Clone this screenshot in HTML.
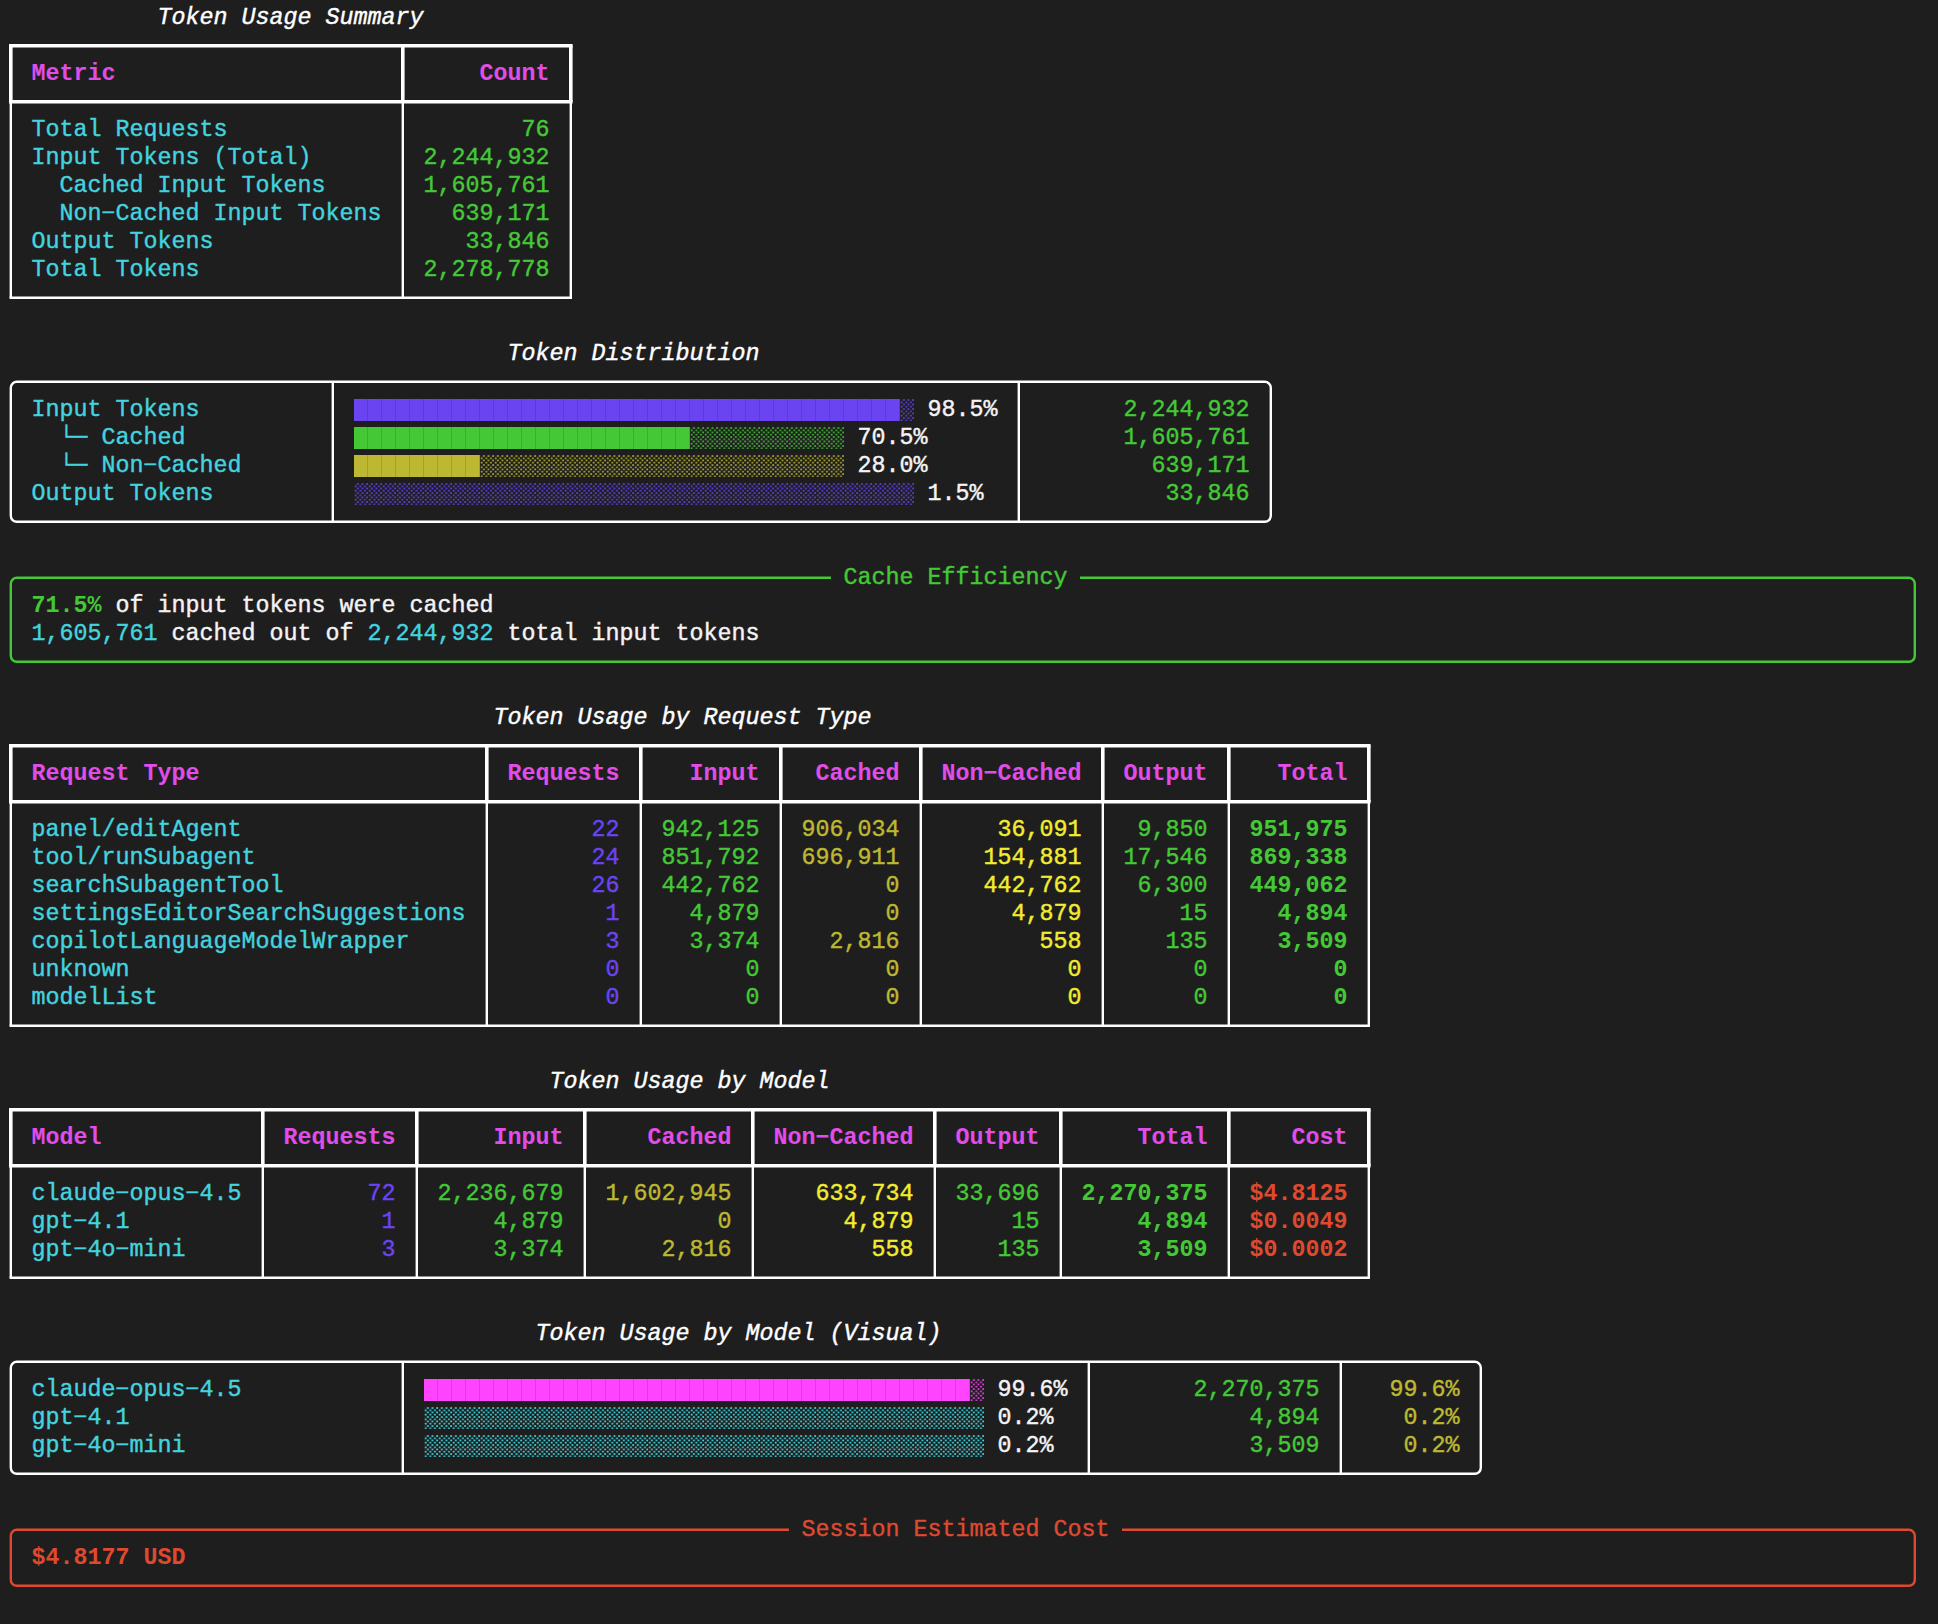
<!DOCTYPE html>
<html><head><meta charset="utf-8"><style>
html,body{margin:0;padding:0;background:#1e1e1e;}
body{width:1938px;height:1624px;overflow:hidden;position:relative;}
.t{position:absolute;white-space:pre;font-family:"Liberation Mono",monospace;font-size:23.33px;line-height:28px;-webkit-text-stroke:0.4px currentColor;}
.b{font-weight:bold;-webkit-text-stroke:0.05px currentColor;}
.i{font-style:italic;}
.bar{position:absolute;}
.r{position:absolute;}
.sh{position:absolute;}
svg.lines{position:absolute;left:0;top:0;}
</style></head><body>
<svg class="lines" width="1938" height="1624"><line x1="10.80" y1="45.80" x2="10.80" y2="101.80" stroke="#ffffff" stroke-width="3.6" stroke-linecap="butt"/><line x1="10.80" y1="101.80" x2="10.80" y2="297.80" stroke="#ffffff" stroke-width="2.4" stroke-linecap="butt"/><line x1="402.80" y1="45.80" x2="402.80" y2="101.80" stroke="#ffffff" stroke-width="3.6" stroke-linecap="butt"/><line x1="402.80" y1="101.80" x2="402.80" y2="297.80" stroke="#ffffff" stroke-width="2.4" stroke-linecap="butt"/><line x1="570.80" y1="45.80" x2="570.80" y2="101.80" stroke="#ffffff" stroke-width="3.6" stroke-linecap="butt"/><line x1="570.80" y1="101.80" x2="570.80" y2="297.80" stroke="#ffffff" stroke-width="2.4" stroke-linecap="butt"/><line x1="10.80" y1="45.80" x2="570.80" y2="45.80" stroke="#ffffff" stroke-width="3.6" stroke-linecap="square"/><line x1="10.80" y1="101.80" x2="570.80" y2="101.80" stroke="#ffffff" stroke-width="3.6" stroke-linecap="square"/><line x1="10.80" y1="297.80" x2="570.80" y2="297.80" stroke="#ffffff" stroke-width="2.4" stroke-linecap="square"/><line x1="332.80" y1="381.80" x2="332.80" y2="521.80" stroke="#ffffff" stroke-width="2.4" stroke-linecap="butt"/><line x1="1018.80" y1="381.80" x2="1018.80" y2="521.80" stroke="#ffffff" stroke-width="2.4" stroke-linecap="butt"/><rect x="10.80" y="381.80" width="1260.00" height="140.00" rx="6" ry="6" fill="none" stroke="#ffffff" stroke-width="2.4"/><rect x="10.80" y="577.80" width="1904.00" height="84.00" rx="6" ry="6" fill="none" stroke="#44c836" stroke-width="2.4"/><rect x="831" y="572" width="249" height="12" fill="#1e1e1e"/><line x1="10.80" y1="745.80" x2="10.80" y2="801.80" stroke="#ffffff" stroke-width="3.6" stroke-linecap="butt"/><line x1="10.80" y1="801.80" x2="10.80" y2="1025.80" stroke="#ffffff" stroke-width="2.4" stroke-linecap="butt"/><line x1="486.80" y1="745.80" x2="486.80" y2="801.80" stroke="#ffffff" stroke-width="3.6" stroke-linecap="butt"/><line x1="486.80" y1="801.80" x2="486.80" y2="1025.80" stroke="#ffffff" stroke-width="2.4" stroke-linecap="butt"/><line x1="640.80" y1="745.80" x2="640.80" y2="801.80" stroke="#ffffff" stroke-width="3.6" stroke-linecap="butt"/><line x1="640.80" y1="801.80" x2="640.80" y2="1025.80" stroke="#ffffff" stroke-width="2.4" stroke-linecap="butt"/><line x1="780.80" y1="745.80" x2="780.80" y2="801.80" stroke="#ffffff" stroke-width="3.6" stroke-linecap="butt"/><line x1="780.80" y1="801.80" x2="780.80" y2="1025.80" stroke="#ffffff" stroke-width="2.4" stroke-linecap="butt"/><line x1="920.80" y1="745.80" x2="920.80" y2="801.80" stroke="#ffffff" stroke-width="3.6" stroke-linecap="butt"/><line x1="920.80" y1="801.80" x2="920.80" y2="1025.80" stroke="#ffffff" stroke-width="2.4" stroke-linecap="butt"/><line x1="1102.80" y1="745.80" x2="1102.80" y2="801.80" stroke="#ffffff" stroke-width="3.6" stroke-linecap="butt"/><line x1="1102.80" y1="801.80" x2="1102.80" y2="1025.80" stroke="#ffffff" stroke-width="2.4" stroke-linecap="butt"/><line x1="1228.80" y1="745.80" x2="1228.80" y2="801.80" stroke="#ffffff" stroke-width="3.6" stroke-linecap="butt"/><line x1="1228.80" y1="801.80" x2="1228.80" y2="1025.80" stroke="#ffffff" stroke-width="2.4" stroke-linecap="butt"/><line x1="1368.80" y1="745.80" x2="1368.80" y2="801.80" stroke="#ffffff" stroke-width="3.6" stroke-linecap="butt"/><line x1="1368.80" y1="801.80" x2="1368.80" y2="1025.80" stroke="#ffffff" stroke-width="2.4" stroke-linecap="butt"/><line x1="10.80" y1="745.80" x2="1368.80" y2="745.80" stroke="#ffffff" stroke-width="3.6" stroke-linecap="square"/><line x1="10.80" y1="801.80" x2="1368.80" y2="801.80" stroke="#ffffff" stroke-width="3.6" stroke-linecap="square"/><line x1="10.80" y1="1025.80" x2="1368.80" y2="1025.80" stroke="#ffffff" stroke-width="2.4" stroke-linecap="square"/><line x1="10.80" y1="1109.80" x2="10.80" y2="1165.80" stroke="#ffffff" stroke-width="3.6" stroke-linecap="butt"/><line x1="10.80" y1="1165.80" x2="10.80" y2="1277.80" stroke="#ffffff" stroke-width="2.4" stroke-linecap="butt"/><line x1="262.80" y1="1109.80" x2="262.80" y2="1165.80" stroke="#ffffff" stroke-width="3.6" stroke-linecap="butt"/><line x1="262.80" y1="1165.80" x2="262.80" y2="1277.80" stroke="#ffffff" stroke-width="2.4" stroke-linecap="butt"/><line x1="416.80" y1="1109.80" x2="416.80" y2="1165.80" stroke="#ffffff" stroke-width="3.6" stroke-linecap="butt"/><line x1="416.80" y1="1165.80" x2="416.80" y2="1277.80" stroke="#ffffff" stroke-width="2.4" stroke-linecap="butt"/><line x1="584.80" y1="1109.80" x2="584.80" y2="1165.80" stroke="#ffffff" stroke-width="3.6" stroke-linecap="butt"/><line x1="584.80" y1="1165.80" x2="584.80" y2="1277.80" stroke="#ffffff" stroke-width="2.4" stroke-linecap="butt"/><line x1="752.80" y1="1109.80" x2="752.80" y2="1165.80" stroke="#ffffff" stroke-width="3.6" stroke-linecap="butt"/><line x1="752.80" y1="1165.80" x2="752.80" y2="1277.80" stroke="#ffffff" stroke-width="2.4" stroke-linecap="butt"/><line x1="934.80" y1="1109.80" x2="934.80" y2="1165.80" stroke="#ffffff" stroke-width="3.6" stroke-linecap="butt"/><line x1="934.80" y1="1165.80" x2="934.80" y2="1277.80" stroke="#ffffff" stroke-width="2.4" stroke-linecap="butt"/><line x1="1060.80" y1="1109.80" x2="1060.80" y2="1165.80" stroke="#ffffff" stroke-width="3.6" stroke-linecap="butt"/><line x1="1060.80" y1="1165.80" x2="1060.80" y2="1277.80" stroke="#ffffff" stroke-width="2.4" stroke-linecap="butt"/><line x1="1228.80" y1="1109.80" x2="1228.80" y2="1165.80" stroke="#ffffff" stroke-width="3.6" stroke-linecap="butt"/><line x1="1228.80" y1="1165.80" x2="1228.80" y2="1277.80" stroke="#ffffff" stroke-width="2.4" stroke-linecap="butt"/><line x1="1368.80" y1="1109.80" x2="1368.80" y2="1165.80" stroke="#ffffff" stroke-width="3.6" stroke-linecap="butt"/><line x1="1368.80" y1="1165.80" x2="1368.80" y2="1277.80" stroke="#ffffff" stroke-width="2.4" stroke-linecap="butt"/><line x1="10.80" y1="1109.80" x2="1368.80" y2="1109.80" stroke="#ffffff" stroke-width="3.6" stroke-linecap="square"/><line x1="10.80" y1="1165.80" x2="1368.80" y2="1165.80" stroke="#ffffff" stroke-width="3.6" stroke-linecap="square"/><line x1="10.80" y1="1277.80" x2="1368.80" y2="1277.80" stroke="#ffffff" stroke-width="2.4" stroke-linecap="square"/><line x1="402.80" y1="1361.80" x2="402.80" y2="1473.80" stroke="#ffffff" stroke-width="2.4" stroke-linecap="butt"/><line x1="1088.80" y1="1361.80" x2="1088.80" y2="1473.80" stroke="#ffffff" stroke-width="2.4" stroke-linecap="butt"/><line x1="1340.80" y1="1361.80" x2="1340.80" y2="1473.80" stroke="#ffffff" stroke-width="2.4" stroke-linecap="butt"/><rect x="10.80" y="1361.80" width="1470.00" height="112.00" rx="6" ry="6" fill="none" stroke="#ffffff" stroke-width="2.4"/><rect x="10.80" y="1529.80" width="1904.00" height="56.00" rx="6" ry="6" fill="none" stroke="#dd4a2f" stroke-width="2.4"/><rect x="789" y="1524" width="333" height="12" fill="#1e1e1e"/></svg>
<div class="bar" style="left:354px;top:399px;width:546px;height:22px;background-color:#6b44f2;background-image:linear-gradient(to right,transparent 0 13px,rgba(0,0,0,0.13) 13px 14px);background-size:14px 100%"></div>
<svg class="sh" style="left:900px;top:399px" width="14" height="22"><defs><pattern id="p1" width="4.6667" height="4.5" patternUnits="userSpaceOnUse"><rect x="2.95" y="0.25" width="1.8" height="1.5" fill="#6b44f2"/><rect x="0.75" y="2.5" width="1.8" height="1.5" fill="#6b44f2"/><rect x="-1.717" y="0.25" width="1.8" height="1.5" fill="#6b44f2"/></pattern></defs><rect width="100%" height="100%" fill="url(#p1)"/></svg>
<div class="bar" style="left:354px;top:427px;width:336px;height:22px;background-color:#44c836;background-image:linear-gradient(to right,transparent 0 13px,rgba(0,0,0,0.13) 13px 14px);background-size:14px 100%"></div>
<svg class="sh" style="left:690px;top:427px" width="154" height="22"><defs><pattern id="p3" width="4.6667" height="4.5" patternUnits="userSpaceOnUse"><rect x="2.95" y="0.25" width="1.8" height="1.5" fill="#44c836"/><rect x="0.75" y="2.5" width="1.8" height="1.5" fill="#44c836"/><rect x="-1.717" y="0.25" width="1.8" height="1.5" fill="#44c836"/></pattern></defs><rect width="100%" height="100%" fill="url(#p3)"/></svg>
<div class="bar" style="left:354px;top:455px;width:126px;height:22px;background-color:#bdb832;background-image:linear-gradient(to right,transparent 0 13px,rgba(0,0,0,0.13) 13px 14px);background-size:14px 100%"></div>
<svg class="sh" style="left:480px;top:455px" width="364" height="22"><defs><pattern id="p5" width="4.6667" height="4.5" patternUnits="userSpaceOnUse"><rect x="2.95" y="0.25" width="1.8" height="1.5" fill="#bdb832"/><rect x="0.75" y="2.5" width="1.8" height="1.5" fill="#bdb832"/><rect x="-1.717" y="0.25" width="1.8" height="1.5" fill="#bdb832"/></pattern></defs><rect width="100%" height="100%" fill="url(#p5)"/></svg>
<svg class="sh" style="left:354px;top:483px" width="560" height="22"><defs><pattern id="p6" width="4.6667" height="4.5" patternUnits="userSpaceOnUse"><rect x="2.95" y="0.25" width="1.8" height="1.5" fill="#6b44f2"/><rect x="0.75" y="2.5" width="1.8" height="1.5" fill="#6b44f2"/><rect x="-1.717" y="0.25" width="1.8" height="1.5" fill="#6b44f2"/></pattern></defs><rect width="100%" height="100%" fill="url(#p6)"/></svg>
<div class="bar" style="left:424px;top:1379px;width:546px;height:22px;background-color:#ff44ff;background-image:linear-gradient(to right,transparent 0 13px,rgba(0,0,0,0.13) 13px 14px);background-size:14px 100%"></div>
<svg class="sh" style="left:970px;top:1379px" width="14" height="22"><defs><pattern id="p8" width="4.6667" height="4.5" patternUnits="userSpaceOnUse"><rect x="2.95" y="0.25" width="1.8" height="1.5" fill="#ff44ff"/><rect x="0.75" y="2.5" width="1.8" height="1.5" fill="#ff44ff"/><rect x="-1.717" y="0.25" width="1.8" height="1.5" fill="#ff44ff"/></pattern></defs><rect width="100%" height="100%" fill="url(#p8)"/></svg>
<svg class="sh" style="left:424px;top:1407px" width="560" height="22"><defs><pattern id="p9" width="4.6667" height="4.5" patternUnits="userSpaceOnUse"><rect x="2.95" y="0.25" width="1.8" height="1.5" fill="#44eef8"/><rect x="0.75" y="2.5" width="1.8" height="1.5" fill="#44eef8"/><rect x="-1.717" y="0.25" width="1.8" height="1.5" fill="#44eef8"/></pattern></defs><rect width="100%" height="100%" fill="url(#p9)"/></svg>
<svg class="sh" style="left:424px;top:1435px" width="560" height="22"><defs><pattern id="p10" width="4.6667" height="4.5" patternUnits="userSpaceOnUse"><rect x="2.95" y="0.25" width="1.8" height="1.5" fill="#44eef8"/><rect x="0.75" y="2.5" width="1.8" height="1.5" fill="#44eef8"/><rect x="-1.717" y="0.25" width="1.8" height="1.5" fill="#44eef8"/></pattern></defs><rect width="100%" height="100%" fill="url(#p10)"/></svg>
<div class="t i" style="left:157.50px;top:3.50px;color:#ffffff">Token Usage Summary</div>
<div class="t b" style="left:31.50px;top:59.50px;color:#e04de8">Metric</div>
<div class="t b" style="left:479.50px;top:59.50px;color:#e04de8">Count</div>
<div class="t" style="left:31.50px;top:115.50px;color:#43d3df">Total Requests</div>
<div class="t" style="left:521.50px;top:115.50px;color:#44c836">76</div>
<div class="t" style="left:31.50px;top:143.50px;color:#43d3df">Input Tokens (Total)</div>
<div class="t" style="left:423.50px;top:143.50px;color:#44c836">2,244,932</div>
<div class="t" style="left:59.50px;top:171.50px;color:#43d3df">Cached Input Tokens</div>
<div class="t" style="left:423.50px;top:171.50px;color:#44c836">1,605,761</div>
<div class="t" style="left:59.50px;top:199.50px;color:#43d3df">Non−Cached Input Tokens</div>
<div class="t" style="left:451.50px;top:199.50px;color:#44c836">639,171</div>
<div class="t" style="left:31.50px;top:227.50px;color:#43d3df">Output Tokens</div>
<div class="t" style="left:465.50px;top:227.50px;color:#44c836">33,846</div>
<div class="t" style="left:31.50px;top:255.50px;color:#43d3df">Total Tokens</div>
<div class="t" style="left:423.50px;top:255.50px;color:#44c836">2,278,778</div>
<div class="t i" style="left:507.50px;top:339.50px;color:#ffffff">Token Distribution</div>
<div class="t" style="left:31.50px;top:395.50px;color:#43d3df">Input Tokens</div>
<div class="t" style="left:59.50px;top:423.50px;color:#43d3df">└─ Cached</div>
<div class="t" style="left:59.50px;top:451.50px;color:#43d3df">└─ Non−Cached</div>
<div class="t" style="left:31.50px;top:479.50px;color:#43d3df">Output Tokens</div>
<div class="t" style="left:927.50px;top:395.50px;color:#f4f4f4">98.5%</div>
<div class="t" style="left:857.50px;top:423.50px;color:#f4f4f4">70.5%</div>
<div class="t" style="left:857.50px;top:451.50px;color:#f4f4f4">28.0%</div>
<div class="t" style="left:927.50px;top:479.50px;color:#f4f4f4">1.5%</div>
<div class="t" style="left:1123.50px;top:395.50px;color:#44c836">2,244,932</div>
<div class="t" style="left:1123.50px;top:423.50px;color:#44c836">1,605,761</div>
<div class="t" style="left:1151.50px;top:451.50px;color:#44c836">639,171</div>
<div class="t" style="left:1165.50px;top:479.50px;color:#44c836">33,846</div>
<div class="t" style="left:843.50px;top:563.50px;color:#44c836">Cache Efficiency</div>
<div class="t b" style="left:31.50px;top:591.50px;color:#44c836">71.5%</div>
<div class="t" style="left:101.50px;top:591.50px;color:#f4f4f4"> of input tokens were cached</div>
<div class="t" style="left:31.50px;top:619.50px;color:#43d3df">1,605,761</div>
<div class="t" style="left:157.50px;top:619.50px;color:#f4f4f4"> cached out of </div>
<div class="t" style="left:367.50px;top:619.50px;color:#43d3df">2,244,932</div>
<div class="t" style="left:493.50px;top:619.50px;color:#f4f4f4"> total input tokens</div>
<div class="t i" style="left:493.50px;top:703.50px;color:#ffffff">Token Usage by Request Type</div>
<div class="t b" style="left:31.50px;top:759.50px;color:#e04de8">Request Type</div>
<div class="t b" style="left:507.50px;top:759.50px;color:#e04de8">Requests</div>
<div class="t b" style="left:689.50px;top:759.50px;color:#e04de8">Input</div>
<div class="t b" style="left:815.50px;top:759.50px;color:#e04de8">Cached</div>
<div class="t b" style="left:941.50px;top:759.50px;color:#e04de8">Non−Cached</div>
<div class="t b" style="left:1123.50px;top:759.50px;color:#e04de8">Output</div>
<div class="t b" style="left:1277.50px;top:759.50px;color:#e04de8">Total</div>
<div class="t" style="left:31.50px;top:815.50px;color:#43d3df">panel/editAgent</div>
<div class="t" style="left:591.50px;top:815.50px;color:#6b44f2">22</div>
<div class="t" style="left:661.50px;top:815.50px;color:#44c836">942,125</div>
<div class="t" style="left:801.50px;top:815.50px;color:#bdb832">906,034</div>
<div class="t" style="left:997.50px;top:815.50px;color:#f2ec30">36,091</div>
<div class="t" style="left:1137.50px;top:815.50px;color:#44c836">9,850</div>
<div class="t b" style="left:1249.50px;top:815.50px;color:#44c836">951,975</div>
<div class="t" style="left:31.50px;top:843.50px;color:#43d3df">tool/runSubagent</div>
<div class="t" style="left:591.50px;top:843.50px;color:#6b44f2">24</div>
<div class="t" style="left:661.50px;top:843.50px;color:#44c836">851,792</div>
<div class="t" style="left:801.50px;top:843.50px;color:#bdb832">696,911</div>
<div class="t" style="left:983.50px;top:843.50px;color:#f2ec30">154,881</div>
<div class="t" style="left:1123.50px;top:843.50px;color:#44c836">17,546</div>
<div class="t b" style="left:1249.50px;top:843.50px;color:#44c836">869,338</div>
<div class="t" style="left:31.50px;top:871.50px;color:#43d3df">searchSubagentTool</div>
<div class="t" style="left:591.50px;top:871.50px;color:#6b44f2">26</div>
<div class="t" style="left:661.50px;top:871.50px;color:#44c836">442,762</div>
<div class="t" style="left:885.50px;top:871.50px;color:#bdb832">0</div>
<div class="t" style="left:983.50px;top:871.50px;color:#f2ec30">442,762</div>
<div class="t" style="left:1137.50px;top:871.50px;color:#44c836">6,300</div>
<div class="t b" style="left:1249.50px;top:871.50px;color:#44c836">449,062</div>
<div class="t" style="left:31.50px;top:899.50px;color:#43d3df">settingsEditorSearchSuggestions</div>
<div class="t" style="left:605.50px;top:899.50px;color:#6b44f2">1</div>
<div class="t" style="left:689.50px;top:899.50px;color:#44c836">4,879</div>
<div class="t" style="left:885.50px;top:899.50px;color:#bdb832">0</div>
<div class="t" style="left:1011.50px;top:899.50px;color:#f2ec30">4,879</div>
<div class="t" style="left:1179.50px;top:899.50px;color:#44c836">15</div>
<div class="t b" style="left:1277.50px;top:899.50px;color:#44c836">4,894</div>
<div class="t" style="left:31.50px;top:927.50px;color:#43d3df">copilotLanguageModelWrapper</div>
<div class="t" style="left:605.50px;top:927.50px;color:#6b44f2">3</div>
<div class="t" style="left:689.50px;top:927.50px;color:#44c836">3,374</div>
<div class="t" style="left:829.50px;top:927.50px;color:#bdb832">2,816</div>
<div class="t" style="left:1039.50px;top:927.50px;color:#f2ec30">558</div>
<div class="t" style="left:1165.50px;top:927.50px;color:#44c836">135</div>
<div class="t b" style="left:1277.50px;top:927.50px;color:#44c836">3,509</div>
<div class="t" style="left:31.50px;top:955.50px;color:#43d3df">unknown</div>
<div class="t" style="left:605.50px;top:955.50px;color:#6b44f2">0</div>
<div class="t" style="left:745.50px;top:955.50px;color:#44c836">0</div>
<div class="t" style="left:885.50px;top:955.50px;color:#bdb832">0</div>
<div class="t" style="left:1067.50px;top:955.50px;color:#f2ec30">0</div>
<div class="t" style="left:1193.50px;top:955.50px;color:#44c836">0</div>
<div class="t b" style="left:1333.50px;top:955.50px;color:#44c836">0</div>
<div class="t" style="left:31.50px;top:983.50px;color:#43d3df">modelList</div>
<div class="t" style="left:605.50px;top:983.50px;color:#6b44f2">0</div>
<div class="t" style="left:745.50px;top:983.50px;color:#44c836">0</div>
<div class="t" style="left:885.50px;top:983.50px;color:#bdb832">0</div>
<div class="t" style="left:1067.50px;top:983.50px;color:#f2ec30">0</div>
<div class="t" style="left:1193.50px;top:983.50px;color:#44c836">0</div>
<div class="t b" style="left:1333.50px;top:983.50px;color:#44c836">0</div>
<div class="t i" style="left:549.50px;top:1067.50px;color:#ffffff">Token Usage by Model</div>
<div class="t b" style="left:31.50px;top:1123.50px;color:#e04de8">Model</div>
<div class="t b" style="left:283.50px;top:1123.50px;color:#e04de8">Requests</div>
<div class="t b" style="left:493.50px;top:1123.50px;color:#e04de8">Input</div>
<div class="t b" style="left:647.50px;top:1123.50px;color:#e04de8">Cached</div>
<div class="t b" style="left:773.50px;top:1123.50px;color:#e04de8">Non−Cached</div>
<div class="t b" style="left:955.50px;top:1123.50px;color:#e04de8">Output</div>
<div class="t b" style="left:1137.50px;top:1123.50px;color:#e04de8">Total</div>
<div class="t b" style="left:1291.50px;top:1123.50px;color:#e04de8">Cost</div>
<div class="t" style="left:31.50px;top:1179.50px;color:#43d3df">claude−opus−4.5</div>
<div class="t" style="left:367.50px;top:1179.50px;color:#6b44f2">72</div>
<div class="t" style="left:437.50px;top:1179.50px;color:#44c836">2,236,679</div>
<div class="t" style="left:605.50px;top:1179.50px;color:#bdb832">1,602,945</div>
<div class="t" style="left:815.50px;top:1179.50px;color:#f2ec30">633,734</div>
<div class="t" style="left:955.50px;top:1179.50px;color:#44c836">33,696</div>
<div class="t b" style="left:1081.50px;top:1179.50px;color:#44c836">2,270,375</div>
<div class="t b" style="left:1249.50px;top:1179.50px;color:#dd4a2f">$4.8125</div>
<div class="t" style="left:31.50px;top:1207.50px;color:#43d3df">gpt−4.1</div>
<div class="t" style="left:381.50px;top:1207.50px;color:#6b44f2">1</div>
<div class="t" style="left:493.50px;top:1207.50px;color:#44c836">4,879</div>
<div class="t" style="left:717.50px;top:1207.50px;color:#bdb832">0</div>
<div class="t" style="left:843.50px;top:1207.50px;color:#f2ec30">4,879</div>
<div class="t" style="left:1011.50px;top:1207.50px;color:#44c836">15</div>
<div class="t b" style="left:1137.50px;top:1207.50px;color:#44c836">4,894</div>
<div class="t b" style="left:1249.50px;top:1207.50px;color:#dd4a2f">$0.0049</div>
<div class="t" style="left:31.50px;top:1235.50px;color:#43d3df">gpt−4o−mini</div>
<div class="t" style="left:381.50px;top:1235.50px;color:#6b44f2">3</div>
<div class="t" style="left:493.50px;top:1235.50px;color:#44c836">3,374</div>
<div class="t" style="left:661.50px;top:1235.50px;color:#bdb832">2,816</div>
<div class="t" style="left:871.50px;top:1235.50px;color:#f2ec30">558</div>
<div class="t" style="left:997.50px;top:1235.50px;color:#44c836">135</div>
<div class="t b" style="left:1137.50px;top:1235.50px;color:#44c836">3,509</div>
<div class="t b" style="left:1249.50px;top:1235.50px;color:#dd4a2f">$0.0002</div>
<div class="t i" style="left:535.50px;top:1319.50px;color:#ffffff">Token Usage by Model (Visual)</div>
<div class="t" style="left:31.50px;top:1375.50px;color:#43d3df">claude−opus−4.5</div>
<div class="t" style="left:1193.50px;top:1375.50px;color:#44c836">2,270,375</div>
<div class="t" style="left:1389.50px;top:1375.50px;color:#bdb832">99.6%</div>
<div class="t" style="left:31.50px;top:1403.50px;color:#43d3df">gpt−4.1</div>
<div class="t" style="left:1249.50px;top:1403.50px;color:#44c836">4,894</div>
<div class="t" style="left:1403.50px;top:1403.50px;color:#bdb832">0.2%</div>
<div class="t" style="left:31.50px;top:1431.50px;color:#43d3df">gpt−4o−mini</div>
<div class="t" style="left:1249.50px;top:1431.50px;color:#44c836">3,509</div>
<div class="t" style="left:1403.50px;top:1431.50px;color:#bdb832">0.2%</div>
<div class="t" style="left:997.50px;top:1375.50px;color:#f4f4f4">99.6%</div>
<div class="t" style="left:997.50px;top:1403.50px;color:#f4f4f4">0.2%</div>
<div class="t" style="left:997.50px;top:1431.50px;color:#f4f4f4">0.2%</div>
<div class="t" style="left:801.50px;top:1515.50px;color:#dd4a2f">Session Estimated Cost</div>
<div class="t b" style="left:31.50px;top:1543.50px;color:#dd4a2f">$4.8177 USD</div>
</body></html>
